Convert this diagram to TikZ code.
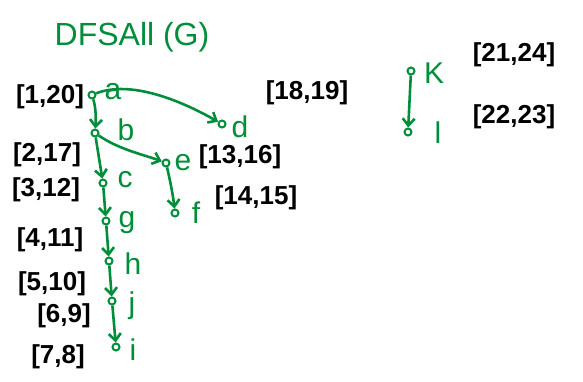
\documentclass[tikz,border=0pt]{standalone}
\usepackage{fontspec}
\setmainfont{Liberation Sans}
\usetikzlibrary{arrows.meta}
\definecolor{pen}{RGB}{0,142,58}
\begin{document}
\begin{tikzpicture}[x=1pt,y=-1pt,
  vtx/.style={circle,draw=pen,line width=2pt,inner sep=0pt,minimum size=7pt},
  vlab/.style={text=pen,font=\fontsize{30}{30}\selectfont,inner sep=0pt},
  itv/.style={text=black,font=\fontsize{26}{26}\selectfont\bfseries,inner sep=0pt},
  edge/.style={draw=pen,line width=2.6pt,-{Straight Barb[length=7pt,width=12pt]}}]
\useasboundingbox (0,0) rectangle (583,381);
\node[text=pen,font=\fontsize{32}{32}\selectfont] (title) at (132,37) {DFSAll (G)};
% vertices
\node[vtx] (a) at (92,95) {};
\node[vtx] (d) at (222,124) {};
\node[vtx] (b) at (95,133) {};
\node[vtx] (e) at (166,163) {};
\node[vtx] (c) at (103,183) {};
\node[vtx] (f) at (175,213) {};
\node[vtx] (g) at (106,221) {};
\node[vtx] (h) at (109,261) {};
\node[vtx] (j) at (112,301) {};
\node[vtx] (i) at (116,347) {};
\node[vtx] (k) at (411,71) {};
\node[vtx] (l) at (408,132) {};
% vertex labels
\node[vlab] (la) at (113,92) {a};
\node[vlab] (ld) at (240,127) {d};
\node[vlab] (lb) at (126,130) {b};
\node[vlab] (le) at (183,163) {e};
\node[vlab] (lc) at (125,180) {c};
\node[vlab] (lf) at (196,213) {f};
\node[vlab] (lg) at (127,223) {g};
\node[vlab] (lh) at (133,264) {h};
\node[vlab] (lj) at (132,306) {j};
\node[vlab] (li) at (133,350) {i};
\node[vlab] (lk) at (434,73) {K};
\node[vlab] (ll) at (438,133) {l};
% intervals
\node[itv] (ta) at (50,97) {[1,20]};
\node[itv] (td) at (307,93) {[18,19]};
\node[itv] (tb) at (47,155) {[2,17]};
\node[itv] (te) at (240,157) {[13,16]};
\node[itv] (tc) at (46,190) {[3,12]};
\node[itv] (tf) at (256,198) {[14,15]};
\node[itv] (tg) at (50,240) {[4,11]};
\node[itv] (th) at (52,284) {[5,10]};
\node[itv] (tj) at (64,316) {[6,9]};
\node[itv] (ti) at (58,357) {[7,8]};
\node[itv] (tk) at (514,55) {[21,24]};
\node[itv] (tl) at (514,117) {[22,23]};
% edges
\draw[edge] (a) .. controls (96,108) and (96,120) .. (b);
\draw[edge] (a) .. controls (130,80) and (180,100) .. (d);
\draw[edge] (b) .. controls (120,150) and (145,155) .. (e);
\draw[edge] (b) -- (c);
\draw[edge] (c) -- (g);
\draw[edge] (g) -- (h);
\draw[edge] (h) -- (j);
\draw[edge] (j) -- (i);
\draw[edge] (e) .. controls (170,180) and (173,195) .. (f);
\draw[edge] (k) -- (l);
\end{tikzpicture}
\end{document}
